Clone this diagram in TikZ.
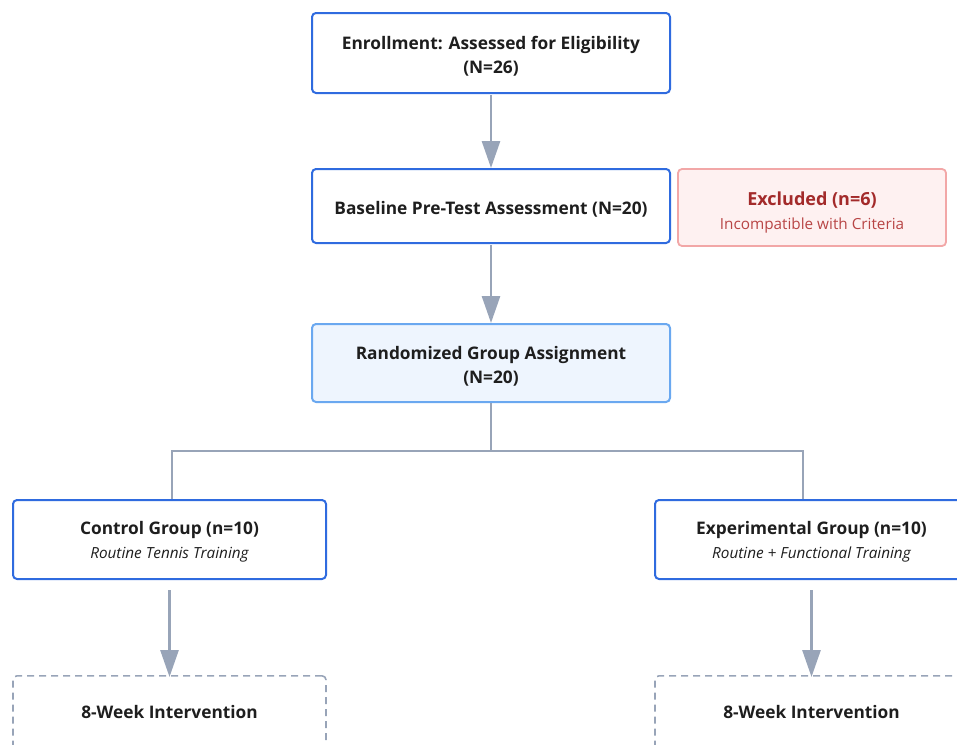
\documentclass[tikz,border=0pt]{standalone}
\usepackage{fontspec}
\setmainfont{Open Sans}
\usetikzlibrary{arrows.meta}
\definecolor{bblue}{HTML}{2F6BDF}
\definecolor{lblue}{HTML}{6AA8F0}
\definecolor{lfill}{HTML}{EEF5FE}
\definecolor{slate}{HTML}{98A4B8}
\definecolor{rborder}{HTML}{F2A7A7}
\definecolor{rfill}{HTML}{FEF1F1}
\definecolor{rtext}{HTML}{A32A2A}
\definecolor{rtext2}{HTML}{B84545}
\definecolor{txt}{HTML}{1E1E1E}
\newcommand{\ttl}{\fontsize{17.3}{24}\selectfont\bfseries}
\newcommand{\sbt}{\fontsize{15.3}{24}\selectfont\mdseries}
\newcommand{\dn}[1]{\rule{0pt}{#1pt}}
\tikzset{
  box/.style={draw=bblue, line width=2pt, rounded corners=4pt, fill=white, align=center, text=txt, font=\ttl, inner sep=0pt},
  randbox/.style={box, draw=lblue, fill=lfill},
  exbox/.style={draw=rborder, line width=1.8pt, rounded corners=4pt, fill=rfill, align=center, inner sep=0pt, font=\fontsize{18}{24}\selectfont\bfseries},
  dbox/.style={draw=slate, line width=1.6pt, dash pattern=on 7pt off 5pt, rounded corners=4pt, align=center, inner sep=0pt},
  arr/.style={draw=slate, line width=2.8pt, -{Triangle[length=27pt,width=18pt]}},
  conn/.style={draw=slate, line width=2pt},
  lbl/.style={font=\ttl, text=txt, inner sep=0pt},
}
\begin{document}
\begin{tikzpicture}[x=1pt,y=-1pt]
\useasboundingbox (0,0) rectangle (957,744);
\clip (0,0) rectangle (957,744);
\node[box, minimum width=358pt, minimum height=80pt] (enr) at (491,53) {\dn{19}Enrollment: Assessed for Eligibility\\(N=26)};
\node[box, minimum width=358pt, minimum height=74pt] (base) at (491,206) {\dn{19}Baseline Pre-Test Assessment (N=20)};
\node[exbox, minimum width=268pt, minimum height=77pt] (exc) at (812,207.5) {\dn{23}{\color{rtext}Excluded (n=6)}\\{\color{rtext2}\sbt Incompatible with Criteria}};
\node[randbox, minimum width=358pt, minimum height=78pt] (rand) at (491,363) {\dn{19}Randomized Group Assignment\\(N=20)};
\node[box, minimum width=313pt, minimum height=79pt] (ctrl) at (169.5,539.5) {\dn{18}Control Group (n=10)\\{\sbt\itshape Routine Tennis Training}};
\node[box, minimum width=313pt, minimum height=79pt] (expt) at (811.5,539.5) {\dn{18}Experimental Group (n=10)\\{\sbt\itshape Routine + Functional Training}};
\node[dbox, minimum width=313pt, minimum height=120pt, anchor=north] (ictrl) at (169.5,675) {};
\node[dbox, minimum width=313pt, minimum height=120pt, anchor=north] (iexpt) at (811.5,675) {};
\node[lbl] (ictrlt) at (169.5,712) {8-Week Intervention};
\node[lbl] (iexptt) at (811.5,712) {8-Week Intervention};
\coordinate (split) at (491,451);
\draw[arr] ([yshift=-1pt]enr.south) -- (base.north);
\draw[arr] ([yshift=-1pt]base.south) -- (rand.north);
\draw[conn] (rand.south) -- (split);
\draw[conn] (split) -| ([xshift=2.5pt]ctrl.north);
\draw[conn] (split) -| ([xshift=-8.5pt]expt.north);
\draw[arr] ([yshift=-10pt]ctrl.south) -- ([yshift=-2pt]ictrl.north);
\draw[arr] ([yshift=-10pt]expt.south) -- ([yshift=-2pt]iexpt.north);
\end{tikzpicture}
\end{document}
